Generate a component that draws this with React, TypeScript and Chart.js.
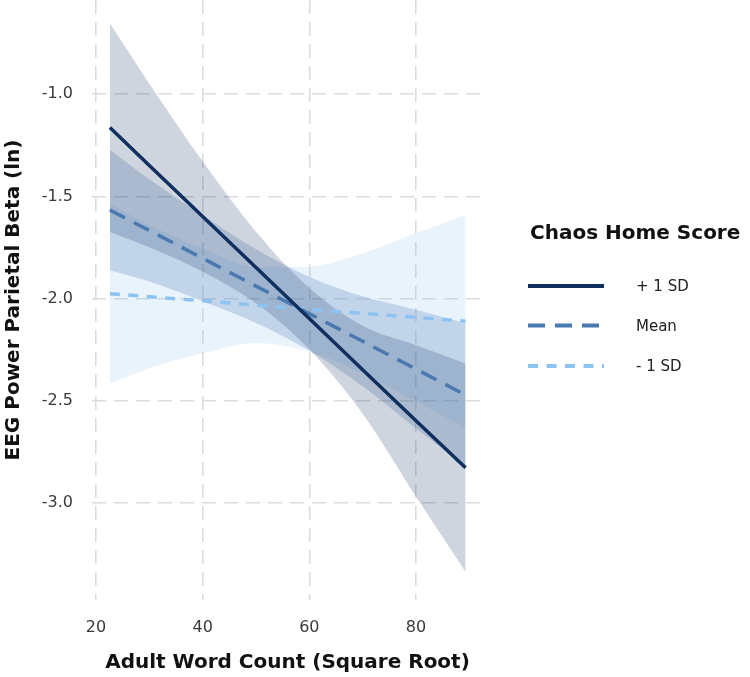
import React, { useEffect, useRef } from 'react';
import { Chart, registerables } from 'chart.js';

Chart.register(...registerables);

// ---- Data ----
const xValues = [22.6, 30, 40, 50, 60, 70, 80, 89.3];

const plusSdFit = [-1.163, -1.348, -1.598, -1.847, -2.097, -2.347, -2.597, -2.826];
const plusSdUpper = [-0.653, -0.948, -1.328, -1.672, -1.947, -2.132, -2.227, -2.316];
const plusSdLower = [-1.673, -1.748, -1.868, -2.022, -2.247, -2.562, -2.967, -3.336];

const meanFit = [-1.566, -1.666, -1.802, -1.938, -2.073, -2.208, -2.344, -2.47];
const meanUpper = [-1.271, -1.416, -1.592, -1.758, -1.893, -1.988, -2.054, -2.12];
const meanLower = [-1.861, -1.916, -2.012, -2.118, -2.253, -2.428, -2.634, -2.82];

const minusSdFit = [-1.975, -1.99, -2.01, -2.031, -2.051, -2.071, -2.091, -2.11];
const minusSdUpper = [-1.537, -1.64, -1.753, -1.846, -1.843, -1.778, -1.68, -1.59];
const minusSdLower = [-2.413, -2.34, -2.267, -2.216, -2.259, -2.364, -2.502, -2.63];

const xTicks = [20, 40, 60, 80];
const yTicks = [-3.0, -2.5, -2.0, -1.5, -1.0];

const seriesLabels = ['+ 1 SD', 'Mean', '- 1 SD'];
const legendTitle = 'Chaos Home Score';
const xTitle = 'Adult Word Count (Square Root)';
const yTitle = 'EEG Power Parietal Beta (ln)';

// ---- Styles ----
const FONT = '"DejaVu Sans", "Liberation Sans", Arial, sans-serif';
const lineColors = ['#0f2f5f', '#4a79b1', '#8dc3f2'];
const bandColors = ['rgba(15,47,95,0.2)', 'rgba(74,121,177,0.25)', 'rgba(141,195,242,0.2)'];
const dashes: number[][] = [[], [17, 10], [10, 8.5]];

const toPoints = (ys: number[]) => xValues.map((x, i) => ({ x, y: ys[i] }));

const legendPlugin = {
  id: 'customLegend',
  afterDraw(chart: any) {
    const ctx = chart.ctx as CanvasRenderingContext2D;
    ctx.save();
    ctx.textBaseline = 'middle';
    ctx.textAlign = 'left';
    ctx.fillStyle = '#111111';
    ctx.font = `bold 20px ${FONT}`;
    ctx.fillText(legendTitle, 530, 234);
    const rowY = [286, 325.5, 366];
    seriesLabels.forEach((label, i) => {
      ctx.beginPath();
      ctx.strokeStyle = lineColors[i];
      ctx.lineWidth = 3.8;
      ctx.setLineDash(dashes[i]);
      ctx.moveTo(528, rowY[i]);
      ctx.lineTo(604, rowY[i]);
      ctx.stroke();
      ctx.setLineDash([]);
      ctx.fillStyle = '#222222';
      ctx.font = `15px ${FONT}`;
      ctx.fillText(label, 636, rowY[i] + 1.5);
    });
    ctx.restore();
  },
};

export default function App() {
  const canvasRef = useRef<HTMLCanvasElement | null>(null);

  useEffect(() => {
    if (!canvasRef.current) return;
    const fits = [plusSdFit, meanFit, minusSdFit];
    const uppers = [plusSdUpper, meanUpper, minusSdUpper];
    const lowers = [plusSdLower, meanLower, minusSdLower];

    const datasets: any[] = [];
    for (let i = 0; i < 3; i++) {
      datasets.push({
        label: seriesLabels[i] + ' upper',
        data: toPoints(uppers[i]),
        borderWidth: 0,
        borderColor: 'transparent',
        pointRadius: 0,
        backgroundColor: bandColors[i],
        fill: '+1',
        cubicInterpolationMode: 'monotone',
        order: 5,
      });
      datasets.push({
        label: seriesLabels[i] + ' lower',
        data: toPoints(lowers[i]),
        borderWidth: 0,
        borderColor: 'transparent',
        pointRadius: 0,
        fill: false,
        cubicInterpolationMode: 'monotone',
        order: 5,
      });
    }
    for (let i = 0; i < 3; i++) {
      datasets.push({
        label: seriesLabels[i],
        data: toPoints(fits[i]),
        borderColor: lineColors[i],
        borderWidth: 3.5,
        borderDash: dashes[i],
        borderCapStyle: 'butt',
        pointRadius: 0,
        fill: false,
        tension: 0,
        order: i,
      });
    }

    const zeroPadding = (scale: any) => {
      scale.paddingTop = 0;
      scale.paddingBottom = 0;
      scale.paddingLeft = 0;
      scale.paddingRight = 0;
    };

    const chart = new Chart(canvasRef.current, {
      type: 'line',
      data: { datasets },
      options: {
        responsive: false,
        animation: false,
        events: [],
        layout: { autoPadding: false, padding: { left: 0, right: 267, top: 0, bottom: 0 } },
        plugins: {
          legend: { display: false },
          tooltip: { enabled: false },
        },
        scales: {
          x: {
            type: 'linear',
            min: 19.25,
            max: 92.57,
            afterBuildTicks: (scale: any) => {
              scale.ticks = xTicks.map((v) => ({ value: v }));
            },
            afterFit: (scale: any) => {
              scale.height = 77;
              zeroPadding(scale);
            },
            grid: { color: '#dcdcdc', lineWidth: 1.6, drawTicks: false },
            border: { display: false, dash: [14, 8] },
            ticks: {
              padding: 18,
              color: '#3a3a3a',
              font: { family: FONT, size: 16 },
              callback: (v: any) => String(v),
            },
            title: {
              display: true,
              text: xTitle,
              color: '#111111',
              font: { family: FONT, size: 20, weight: 'bold', lineHeight: 1 },
              padding: { top: 0, bottom: 4 },
            },
          },
          y: {
            type: 'linear',
            min: -3.473,
            max: -0.539,
            afterBuildTicks: (scale: any) => {
              scale.ticks = yTicks.map((v) => ({ value: v }));
            },
            afterFit: (scale: any) => {
              scale.width = 92;
              zeroPadding(scale);
            },
            grid: { color: '#dcdcdc', lineWidth: 1.6, drawTicks: false },
            border: { display: false, dash: [14, 8] },
            ticks: {
              padding: 19,
              color: '#3a3a3a',
              font: { family: FONT, size: 16 },
              callback: (v: any) => Number(v).toFixed(1),
            },
            title: {
              display: true,
              text: yTitle,
              color: '#111111',
              font: { family: FONT, size: 20, weight: 'bold', lineHeight: 1 },
              padding: { top: 4, bottom: 0 },
            },
          },
        },
      },
      plugins: [legendPlugin],
    });

    return () => chart.destroy();
  }, []);

  return (
    <div style={{ position: 'absolute', left: 0, top: 0, width: 750, height: 677, background: '#ffffff' }}>
      <canvas ref={canvasRef} width={750} height={677} style={{ display: 'block' }} />
    </div>
  );
}
